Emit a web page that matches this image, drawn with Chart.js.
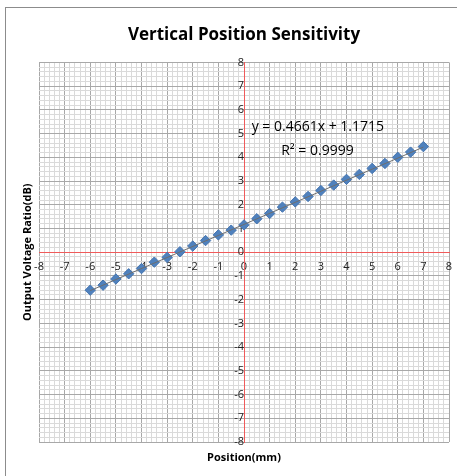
<!DOCTYPE html>
<html>
<head>
<meta charset="utf-8">
<script src="https://cdn.jsdelivr.net/npm/chart.js@4.4.0/dist/chart.umd.min.js"></script>
<style>
html, body { margin: 0; padding: 0; background: #fff; }
#wrap { position: relative; width: 457px; height: 476px; overflow: hidden; }
#frame { position: absolute; left: 5px; top: 7px; width: 470px; height: 490px; border: 1px solid #8c8c8c; }
canvas { position: absolute; left: 0; top: 0; }
</style>
</head>
<body>
<div id="wrap">
  <div id="frame"></div>
  <canvas id="chart" width="457" height="476"></canvas>
</div>
<script>
// Data
const positionMm = [-6, -5.5, -5, -4.5, -4, -3.5, -3, -2.5, -2, -1.5, -1, -0.5, 0, 0.5, 1, 1.5, 2, 2.5, 3, 3.5, 4, 4.5, 5, 5.5, 6, 6.5, 7];
const voltageRatio = [-1.6, -1.39, -1.13, -0.91, -0.69, -0.42, -0.22, 0.02, 0.26, 0.49, 0.73, 0.93, 1.15, 1.41, 1.63, 1.9, 2.12, 2.35, 2.6, 2.83, 3.07, 3.28, 3.53, 3.74, 4.0, 4.22, 4.45];

// linear trendline drawn by Excel
const trendX = [-6, 7];
const trendY = [-1.62, 4.43];
const trendLabel = 'y = 0.4661x + 1.1715';
const r2Label = 'R\u00b2 = 0.9999';

const axisMin = -8;
const axisMax = 8;
const minorStep = 0.2;

const isMajor = v => Math.abs(v - Math.round(v)) < 1e-6;

function gridColor(ctx) {
    const v = ctx.tick ? ctx.tick.value : 0;
    if (Math.abs(v) < 1e-6) return '#f05a5a';
    return isMajor(v) ? '#a8a8a8' : '#dadada';
}

const tickFont = { family: 'Open Sans', size: 11 };

const axisTitles = {
    id: 'axisTitles',
    afterDraw(chart) {
        const { ctx, chartArea } = chart;
        const x = chart.scales.x, y = chart.scales.y;
        ctx.save();
        ctx.fillStyle = '#000';
        ctx.font = 'bold 11px "Open Sans"';
        ctx.textAlign = 'center';
        ctx.textBaseline = 'middle';
        ctx.fillText('Position(mm)', (chartArea.left + chartArea.right) / 2, chartArea.bottom + 16);
        ctx.translate(chartArea.left - 11, (chartArea.top + chartArea.bottom) / 2);
        ctx.rotate(-Math.PI / 2);
        ctx.fillText('Output Voltage Ratio(dB)', 0, 0);
        ctx.restore();

        // trendline equation, placed like Excel's label
        ctx.save();
        ctx.fillStyle = '#000';
        ctx.font = '14px "Open Sans"';
        ctx.textBaseline = 'middle';
        ctx.fillText(trendLabel, x.getPixelForValue(0.3), y.getPixelForValue(5.28));
        ctx.fillText(r2Label, x.getPixelForValue(1.45), y.getPixelForValue(4.25));
        ctx.restore();
    }
};

new Chart(document.getElementById('chart'), {
    type: 'scatter',
    data: {
        datasets: [{
            label: 'Output Voltage Ratio',
            data: positionMm.map((p, i) => ({ x: p, y: voltageRatio[i] })),
            pointStyle: 'rectRot',
            pointRadius: 5.2,
            backgroundColor: '#4f81bd',
            borderColor: '#4575b0',
            borderWidth: 1,
            order: 1
        }, {
            label: 'Linear',
            data: trendX.map((p, i) => ({ x: p, y: trendY[i] })),
            showLine: true,
            borderColor: '#6e6e6e',
            borderWidth: 1,
            pointRadius: 0,
            order: 0
        }]
    },
    options: {
        responsive: false,
        animation: false,
        layout: {
            padding: { left: 39, right: 8, top: 0, bottom: 34 }
        },
        plugins: {
            legend: { display: false },
            tooltip: { enabled: false },
            title: {
                display: true,
                text: 'Vertical Position Sensitivity',
                color: '#000',
                font: { family: 'Open Sans', size: 17, weight: 'bold' },
                padding: { top: 25, bottom: 17 }
            }
        },
        scales: {
            x: {
                type: 'linear',
                min: axisMin,
                max: axisMax,
                position: { y: 0 },
                border: { color: '#f05a5a', width: 1 },
                grid: { color: gridColor, tickLength: 4, drawTicks: true },
                ticks: {
                    stepSize: minorStep,
                    maxTicksLimit: 200,
                    autoSkip: false,
                    maxRotation: 0,
                    padding: 4,
                    color: '#222',
                    font: tickFont,
                    callback: v => isMajor(v) ? String(Math.round(v)) : ''
                }
            },
            y: {
                type: 'linear',
                min: axisMin,
                max: axisMax,
                position: { x: 0 },
                border: { color: '#f05a5a', width: 1 },
                grid: { color: gridColor, tickLength: 4, drawTicks: true },
                ticks: {
                    stepSize: minorStep,
                    maxTicksLimit: 200,
                    autoSkip: false,
                    padding: 2,
                    color: '#222',
                    font: tickFont,
                    callback: v => isMajor(v) ? String(Math.round(v)) : ''
                }
            }
        }
    },
    plugins: [axisTitles]
});
</script>
</body>
</html>
